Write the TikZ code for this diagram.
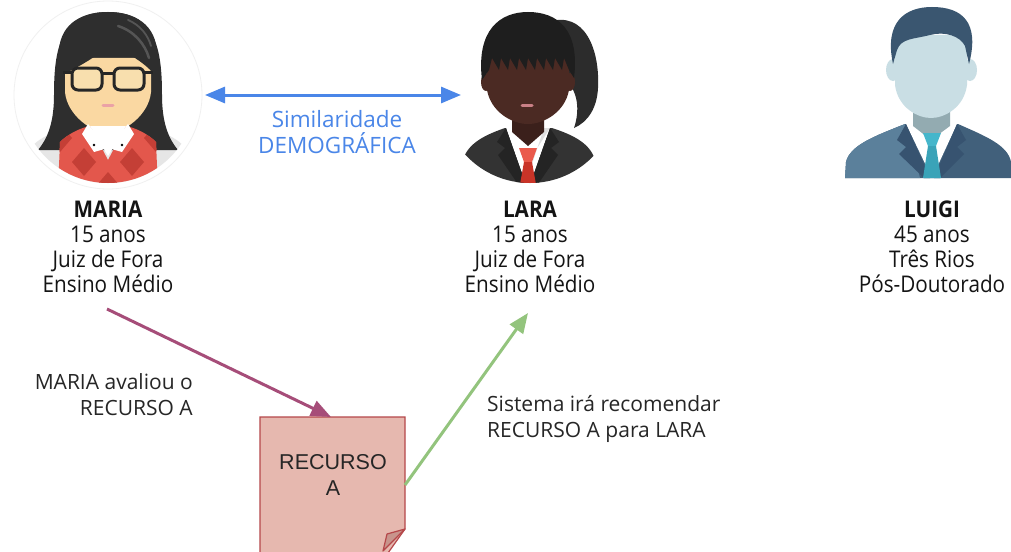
\documentclass[tikz,border=0pt]{standalone}
\usepackage{fontspec}
\setmainfont{Open Sans}
\newfontfamily\boxfont{Liberation Sans}
\newfontfamily\condfont[FakeStretch=0.9]{Open Sans}
\usetikzlibrary{arrows.meta}
% connector colours
\definecolor{simblue}{HTML}{4A86E8}
\definecolor{ratepurple}{HTML}{A64D79}
\definecolor{recgreen}{HTML}{93C47D}
\definecolor{docfill}{HTML}{E6B8AF}
\definecolor{docline}{HTML}{B5474A}
\definecolor{docfold}{HTML}{C8948C}
% Maria
\definecolor{mhair}{HTML}{2E2E2E}
\definecolor{mhl}{HTML}{555555}
\definecolor{mskin}{HTML}{FAD8A2}
\definecolor{mneck}{HTML}{EFC58E}
\definecolor{mglass}{HTML}{F8DFAE}
\definecolor{mred}{HTML}{E3574C}
\definecolor{mdred}{HTML}{C43F36}
\definecolor{mgrey}{HTML}{E6E6E6}
\definecolor{mpink}{HTML}{EBA2A6}
% Lara
\definecolor{lhair}{HTML}{1E1E1E}
\definecolor{lhair2}{HTML}{2C2C2C}
\definecolor{lskin}{HTML}{4B2A23}
\definecolor{lneck}{HTML}{3B201B}
\definecolor{lsuit}{HTML}{333333}
\definecolor{llapel}{HTML}{242424}
\definecolor{ltie}{HTML}{EA5A4C}
\definecolor{ltie2}{HTML}{C93428}
\definecolor{lpink}{HTML}{C98086}
% Luigi
\definecolor{ghair}{HTML}{3A5670}
\definecolor{gskin}{HTML}{C9DEE4}
\definecolor{gneck}{HTML}{93ABB1}
\definecolor{gsuit}{HTML}{41607B}
\definecolor{gsuitl}{HTML}{5B809B}
\definecolor{glapel}{HTML}{375370}
\definecolor{gtie}{HTML}{45B6CB}
\definecolor{gtie2}{HTML}{3AA3B8}

\begin{document}
\begin{tikzpicture}[x=1pt,y=-1pt,
  person/.style={font=\condfont\fontsize{23}{25}\selectfont, align=center,
                 text=black!92, inner sep=0pt, anchor=north},
  note/.style={font=\fontsize{21}{26}\selectfont, text=black!85, inner sep=0pt},
  link/.style={line width=3pt, -{Triangle[length=20pt,width=16pt]}},
  anchorbox/.style={inner sep=0pt, minimum width=#1, minimum height=#1},
]
\useasboundingbox (0,0) rectangle (1011,551);
\fill[white] (0,0) rectangle (1011,551);

% ---------------- Maria ----------------
\draw[gray!12, line width=0.8pt] (108,95) circle (94);
\begin{scope}
  \clip (108,95) circle (88);
  \fill[mgrey] (20,190) -- (28,152) .. controls (35,138) and (60,128) .. (84,124)
        -- (132,124) .. controls (156,128) and (181,138) .. (188,152) -- (196,190) -- cycle;
  \fill[mhair] (108,12) .. controls (60,12) and (54,50) .. (54,95)
        .. controls (54,122) and (48,138) .. (38,150) -- (80,150) -- (136,150) -- (178,150)
        .. controls (168,138) and (162,122) .. (162,95) .. controls (162,50) and (156,12) .. (108,12) -- cycle;
  \fill[mneck] (94,116) rectangle (122,140);
  \fill[mskin] (65,58) -- (65,92) .. controls (67,115) and (92,133) .. (108,133)
        .. controls (124,133) and (149,115) .. (151,92) -- (151,58) -- cycle;
  \begin{scope}
    \clip (58,190) -- (60,142) .. controls (68,134) and (80,128) .. (90,126) -- (108,160)
        -- (126,126) .. controls (136,128) and (148,134) .. (156,142) -- (158,190) -- cycle;
    \fill[mred] (40,120) rectangle (180,190);
    \foreach \x/\y in {84/162, 132/162, 108/186, 60/186, 156/186, 60/138, 156/138}
      \fill[mdred] (\x,\y-14) -- (\x+12,\y) -- (\x,\y+14) -- (\x-12,\y) -- cycle;
  \end{scope}
  \fill[white] (90,126) -- (126,126) -- (108,156) -- cycle;
  \fill[white] (88,124) -- (108,148) -- (94,152) -- (82,134) -- cycle;
  \fill[white] (128,124) -- (108,148) -- (122,152) -- (134,134) -- cycle;
  \fill[black] (94,145) circle (1.4) (122,145) circle (1.4);
  \fill[mhair] (59,100) -- (59,50) .. controls (61,22) and (84,12) .. (108,12)
        .. controls (134,12) and (157,24) .. (157,55) -- (157,78)
        .. controls (146,62) and (125,52) .. (110,44) .. controls (98,56) and (80,66) .. (64,74)
        -- (64,100) -- cycle;
  \draw[mhl, line width=2.5pt, line cap=round] (118,26) .. controls (134,31) and (145,44) .. (149,58);
  \draw[mhl, line width=1.8pt, line cap=round] (128,20) .. controls (140,25) and (148,35) .. (151,46);
  \draw[black!85, line width=3pt, rounded corners=6pt, fill=mglass] (72,68) rectangle (102,90);
  \draw[black!85, line width=3pt, rounded corners=6pt, fill=mglass] (114,68) rectangle (144,90);
  \draw[black!85, line width=3pt] (102,73) -- (114,73) (72,72) -- (63,72) (144,72) -- (153,72);
  \draw[mpink, line width=3pt, line cap=round] (103,105) -- (113,105);
\end{scope}
\node[anchorbox=176pt] (maria) at (108,95) {};

% ---------------- Lara ----------------
\begin{scope}
  \clip (530,95) circle (88);
  \fill[lhair2] (548,22) .. controls (585,10) and (600,50) .. (598,88)
        .. controls (597,108) and (588,122) .. (574,128) .. controls (580,110) and (578,92) .. (566,80)
        -- (560,40) -- cycle;
  \fill[lsuit] (460,190) -- (463,160) .. controls (468,142) and (488,134) .. (505,128)
        -- (552,128) .. controls (570,134) and (590,142) .. (595,160) -- (600,190) -- cycle;
  \fill[white] (506,128) -- (550,128) -- (528,190) -- cycle;
  \fill[gray!25] (536,150) -- (550,128) -- (544,128) -- (530,170) -- cycle;
  \fill[llapel] (506,128) -- (497,142) -- (505,148) -- (498,155) -- (522,190) -- (526,185) -- cycle;
  \fill[llapel] (550,128) -- (559,142) -- (551,148) -- (558,155) -- (534,190) -- (530,185) -- cycle;
  \fill[lneck] (512,106) -- (544,106) -- (544,132) -- (528,146) -- (512,132) -- cycle;
  \fill[ltie] (519,148) -- (537,148) -- (532,162) -- (524,162) -- cycle;
  \fill[ltie2] (524,162) -- (532,162) -- (537,190) -- (519,190) -- cycle;
  \fill[lskin] (486,82) ellipse (5 and 9) (570,82) ellipse (5 and 9);
  \fill[lskin] (487,58) -- (487,90) .. controls (491,112) and (512,124) .. (528,124)
        .. controls (544,124) and (565,112) .. (569,90) -- (569,58) -- cycle;
  \fill[lhair] (482,80) .. controls (476,30) and (500,12) .. (528,12)
        .. controls (558,12) and (580,30) .. (574,78) -- (569,70)
        -- (564,58) -- (562,70) -- (555,58) -- (553,70) -- (546,58) -- (544,70)
        -- (537,58) -- (535,70) -- (528,58) -- (526,70) -- (519,58) -- (517,70)
        -- (510,58) -- (508,70) -- (501,58) -- (499,70) -- (492,58) -- (489,70) -- cycle;
  \draw[lpink, line width=3pt, line cap=round] (522,105) -- (532,105);
\end{scope}
\node[anchorbox=176pt] (lara) at (530,95) {};

% ---------------- Luigi ----------------
\fill[gsuit] (845,178) -- (846,162) .. controls (850,145) and (875,136) .. (905,124)
      -- (958,124) .. controls (985,136) and (1008,145) .. (1011,162) -- (1011,178) -- cycle;
\fill[gsuitl] (845,178) -- (846,162) .. controls (850,145) and (875,136) .. (905,124) -- (920,178) -- cycle;
\fill[white] (906,124) -- (957,124) -- (932,178) -- cycle;
\fill[glapel] (906,124) -- (897,140) -- (906,147) -- (899,154) -- (924,178) -- (930,178) -- cycle;
\fill[glapel] (957,124) -- (966,140) -- (957,147) -- (964,154) -- (940,178) -- (934,178) -- cycle;
\fill[gneck] (913,104) -- (950,104) -- (950,126) -- (931,140) -- (913,126) -- cycle;
\fill[gtie] (923,133) -- (941,133) -- (936,146) -- (928,146) -- cycle;
\fill[gtie2] (928,146) -- (936,146) -- (941,178) -- (923,178) -- cycle;
\fill[gskin] (893,70) ellipse (7 and 11) (970,70) ellipse (7 and 11);
\fill[gskin] (895,35) -- (895,85) .. controls (898,108) and (918,118) .. (931,118)
      .. controls (944,118) and (964,108) .. (967,85) -- (967,35) -- cycle;
\fill[ghair] (893,64) .. controls (884,22) and (905,7) .. (932,7)
      .. controls (962,7) and (980,22) .. (969,64) -- (965,46)
      .. controls (960,36) and (945,31) .. (930,35) .. controls (915,39) and (901,38) .. (897,50) -- cycle;
\node[anchorbox=170pt] (luigi) at (928,95) {};

% ---------------- captions ----------------
\node[person] (mariaTxt) at (108,201) {\textbf{MARIA}\\15 anos\\Juiz de Fora\\Ensino Médio};
\node[person] (laraTxt)  at (530,201) {\textbf{LARA}\\15 anos\\Juiz de Fora\\Ensino Médio};
\node[person] (luigiTxt) at (932,201) {\textbf{LUIGI}\\45 anos\\Três Rios\\Pós-Doutorado};

% ---------------- resource document ----------------
\fill[docfill, draw=docline, line width=1.2pt]
  (260,417) -- (405,417) -- (405,529) -- (383,560) -- (260,560) -- cycle;
\fill[docfold, draw=docline, line width=1.2pt, line join=round]
  (405,529) -- (387,534) -- (383,551) -- cycle;
\node[inner sep=0pt, minimum width=145pt, minimum height=143pt, anchor=north west]
  (recurso) at (260,417) {};
\node[font=\boxfont\fontsize{21.5}{26}\selectfont, align=center, text=black!85, inner sep=0pt]
  (recursoTxt) at (333,475) {RECURSO\\A};

% ---------------- connectors ----------------
\coordinate (simL) at (205,95);
\coordinate (simR) at (461,95);
\draw[simblue, line width=3pt, {Triangle[length=20pt,width=16pt]}-{Triangle[length=20pt,width=16pt]}]
  (simL) -- (simR);
\node[font=\fontsize{22.5}{26}\selectfont, text=simblue, align=center, inner sep=0pt]
  (simTxt) at (337,132) {Similaridade\\DEMOGRÁFICA};

\coordinate (rateFrom) at (107,309);
\draw[link, ratepurple] (rateFrom) -- (recurso.north -| 331,0);

\coordinate (recFrom) at (405,485);
\coordinate (recTo) at (528,313);
\draw[link, recgreen] (recFrom) -- (recTo);

\node[note, align=right, anchor=north east] (rateTxt) at (193,373) {MARIA avaliou o\\RECURSO A};
\node[note, align=left, anchor=north west] (recTxt) at (487,395) {Sistema irá recomendar\\RECURSO A para LARA};
\end{tikzpicture}
\end{document}
